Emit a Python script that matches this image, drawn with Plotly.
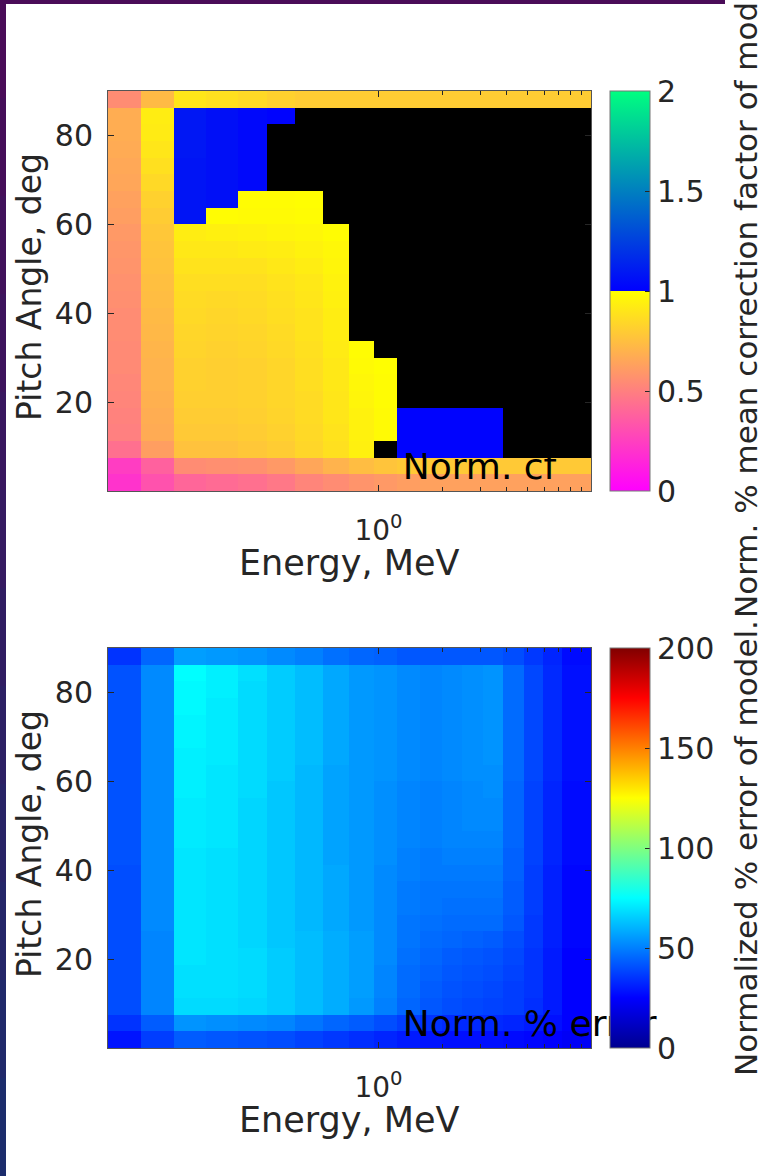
import plotly.graph_objects as go
import math

# ---------------- data ----------------
energy_edges = [0.0536, 0.0769, 0.110, 0.1555, 0.219, 0.298, 0.405, 0.547, 0.729, 0.953,
                1.218, 1.567, 1.983, 2.461, 3.09, 3.86, 4.80, 5.92, 7.27, 9.96]
pitch_edges = [0, 3.75, 7.5, 11.25, 15, 18.75, 22.5, 26.25, 30, 33.75, 37.5, 41.25, 45,
               48.75, 52.5, 56.25, 60, 63.75, 67.5, 71.25, 75, 78.75, 82.5, 86.25, 90]

N = None
# normalized mean correction factor (rows: pitch bins bottom->top, cols: energy bins)
norm_cf = [
    [0.20, 0.32, 0.40, 0.42, 0.44, 0.47, 0.52, 0.55, 0.58, 0.60, 0.62, 0.63, 0.63, 0.63, 0.63, 0.63, 0.63, 0.63, 0.63],
    [0.24, 0.38, 0.55, 0.56, 0.57, 0.60, 0.65, 0.70, 0.74, 0.77, 0.79, 0.79, 0.79, 0.79, 0.79, 0.79, 0.79, 0.79, 0.79],
    [0.44, 0.62, 0.76, 0.76, 0.78, 0.80, 0.84, 0.88, 0.94, N, 1.01, 1.01, 1.01, 1.01, 1.01, N, N, N, N],
    [0.50, 0.67, 0.79, 0.79, 0.80, 0.82, 0.85, 0.89, 0.95, 0.98, 1.01, 1.01, 1.01, 1.01, 1.01, N, N, N, N],
    [0.51, 0.68, 0.80, 0.80, 0.81, 0.83, 0.86, 0.90, 0.95, 0.98, 1.01, 1.01, 1.01, 1.01, 1.01, N, N, N, N],
    [0.52, 0.69, 0.81, 0.81, 0.82, 0.84, 0.86, 0.90, 0.96, 0.99, N, N, N, N, N, N, N, N, N],
    [0.53, 0.70, 0.82, 0.81, 0.82, 0.84, 0.87, 0.91, 0.97, 0.99, N, N, N, N, N, N, N, N, N],
    [0.54, 0.70, 0.82, 0.81, 0.82, 0.84, 0.87, 0.91, 0.98, 0.995, N, N, N, N, N, N, N, N, N],
    [0.54, 0.71, 0.83, 0.82, 0.83, 0.85, 0.88, 0.92, 0.99, N, N, N, N, N, N, N, N, N, N],
    [0.55, 0.72, 0.84, 0.83, 0.84, 0.86, 0.89, 0.93, N, N, N, N, N, N, N, N, N, N, N],
    [0.55, 0.73, 0.85, 0.84, 0.85, 0.87, 0.89, 0.93, N, N, N, N, N, N, N, N, N, N, N],
    [0.56, 0.74, 0.86, 0.85, 0.86, 0.88, 0.90, 0.94, N, N, N, N, N, N, N, N, N, N, N],
    [0.57, 0.75, 0.87, 0.87, 0.87, 0.89, 0.91, 0.95, N, N, N, N, N, N, N, N, N, N, N],
    [0.58, 0.76, 0.89, 0.89, 0.89, 0.91, 0.93, 0.96, N, N, N, N, N, N, N, N, N, N, N],
    [0.59, 0.77, 0.91, 0.91, 0.92, 0.93, 0.95, 0.97, N, N, N, N, N, N, N, N, N, N, N],
    [0.60, 0.78, 0.93, 0.94, 0.95, 0.96, 0.97, 0.99, N, N, N, N, N, N, N, N, N, N, N],
    [0.62, 0.80, 1.08, 0.99, 0.98, 0.98, 0.99, N, N, N, N, N, N, N, N, N, N, N, N],
    [0.63, 0.82, 1.08, 1.06, 0.99, 0.99, 0.995, N, N, N, N, N, N, N, N, N, N, N, N],
    [0.65, 0.85, 1.08, 1.06, 1.03, N, N, N, N, N, N, N, N, N, N, N, N, N, N],
    [0.66, 0.88, 1.08, 1.06, 1.03, N, N, N, N, N, N, N, N, N, N, N, N, N, N],
    [0.67, 0.90, 1.09, 1.06, 1.03, N, N, N, N, N, N, N, N, N, N, N, N, N, N],
    [0.68, 0.92, 1.09, 1.06, 1.03, N, N, N, N, N, N, N, N, N, N, N, N, N, N],
    [0.68, 0.93, 1.09, 1.06, 1.03, 1.01, N, N, N, N, N, N, N, N, N, N, N, N, N],
    [0.55, 0.73, 0.90, 0.88, 0.85, 0.82, 0.80, 0.80, 0.80, 0.80, 0.80, 0.80, 0.80, 0.80, 0.80, 0.80, 0.80, 0.80, 0.80],
]

# normalized % error of model
norm_err = [
    [29, 37, 43, 42, 41, 40, 38, 36, 34, 32, 30, 29, 28, 28, 28, 27, 26, 25, 23],
    [35, 43, 54, 53, 52, 51, 48, 45, 43, 40, 37, 35, 33, 33, 33, 32, 30, 28, 25],
    [40, 51, 68, 68, 67, 65, 62, 59, 55, 50, 45, 42, 40, 39, 38, 37, 34, 30, 25],
    [40, 51, 69, 69, 68, 65, 62, 59, 56, 51, 46, 43, 41, 40, 39, 37, 35, 30, 25],
    [40, 51, 69, 69, 68, 65, 62, 59, 56, 51, 46, 44, 42, 41, 40, 38, 35, 30, 25],
    [40, 51, 70, 69, 68, 65, 62, 59, 56, 52, 47, 45, 43, 42, 41, 39, 35, 30, 25],
    [40, 51, 70, 69, 67, 64, 62, 59, 56, 52, 48, 46, 45, 44, 43, 40, 36, 31, 26],
    [40, 52, 70, 69, 67, 64, 61, 58, 55, 52, 48, 47, 46, 46, 46, 42, 36, 31, 26],
    [40, 52, 70, 69, 67, 64, 61, 58, 55, 52, 49, 48, 47, 47, 47, 43, 37, 31, 26],
    [40, 52, 70, 69, 67, 64, 61, 58, 55, 52, 49, 48, 48, 48, 48, 43, 37, 31, 26],
    [40, 52, 70, 69, 67, 64, 61, 58, 55, 52, 50, 49, 49, 49, 49, 44, 37, 31, 26],
    [41, 52, 70, 69, 67, 64, 61, 57, 55, 53, 50, 49, 50, 50, 50, 44, 38, 32, 27],
    [41, 52, 71, 70, 67, 64, 61, 57, 55, 53, 51, 50, 51, 51, 51, 45, 38, 32, 27],
    [41, 52, 71, 70, 67, 64, 61, 57, 55, 53, 51, 50, 51, 52, 52, 45, 38, 32, 27],
    [41, 52, 71, 70, 67, 64, 61, 57, 55, 53, 51, 50, 51, 52, 52, 45, 38, 32, 27],
    [41, 52, 72, 70, 68, 64, 61, 57, 55, 53, 51, 50, 51, 52, 53, 45, 38, 32, 27],
    [41, 52, 72, 70, 68, 65, 61, 57, 55, 54, 52, 51, 52, 53, 53, 46, 39, 33, 28],
    [41, 52, 72, 71, 68, 65, 62, 58, 55, 54, 52, 51, 52, 53, 54, 46, 39, 33, 28],
    [41, 52, 73, 71, 68, 65, 62, 58, 55, 54, 52, 51, 52, 53, 54, 46, 39, 33, 28],
    [41, 52, 73, 71, 68, 65, 62, 58, 55, 54, 52, 51, 52, 53, 54, 46, 39, 33, 28],
    [41, 52, 74, 71, 68, 65, 62, 58, 55, 54, 52, 51, 52, 53, 54, 46, 39, 33, 28],
    [41, 52, 74, 72, 68, 65, 62, 58, 55, 54, 52, 51, 52, 53, 54, 46, 39, 33, 28],
    [41, 52, 75, 72, 69, 65, 62, 58, 55, 54, 52, 51, 52, 53, 54, 46, 39, 33, 28],
    [35, 45, 56, 55, 54, 52, 50, 47, 45, 44, 42, 42, 42, 42, 42, 40, 36, 32, 27],
]

cf_ticks = [0, 0.5, 1, 1.5, 2]
err_ticks = [0, 50, 100, 150, 200]
pitch_ticks = [20, 40, 60, 80]
energy_major = [1]
energy_major_text = ["10<sup>0</sup>"]
energy_minor = [2, 3, 4, 5, 6, 7, 8, 9]
label_pos = {"energy": 1.30, "pitch": 4.8}

# ---------------- layout geometry (pixels) ----------------
W, H = 782, 1176
FONT = "DejaVu Sans"
TXT = "#262626"
px_x = lambda p: p / W
px_y = lambda p: 1 - p / H

ax_left, ax_right = 108, 591
p1_top, p1_bot = 91, 491
p2_top, p2_bot = 648, 1048
cb_left, cb_thick = 610, 40

spring_winter = [[0, "rgb(255,0,255)"], [0.5, "rgb(255,255,0)"],
                 [0.5, "rgb(0,0,255)"], [1, "rgb(0,255,128)"]]
jet = [[0, "rgb(0,0,143)"], [0.125, "rgb(0,0,255)"], [0.375, "rgb(0,255,255)"],
       [0.625, "rgb(255,255,0)"], [0.875, "rgb(255,0,0)"], [1, "rgb(128,0,0)"]]

def cbar(top, bot, ticks):
    return dict(x=px_x(cb_left), xanchor="left", xpad=0, ypad=0,
                y=px_y((top + bot) / 2), yanchor="middle",
                len=(bot - top) / H, lenmode="fraction", thickness=cb_thick,
                thicknessmode="pixels", outlinewidth=1, outlinecolor="#777777",
                tickvals=ticks, ticks="inside", ticklen=5, tickcolor=TXT,
                tickfont=dict(family=FONT, size=30, color=TXT))

fig = go.Figure()
fig.add_trace(go.Heatmap(x=energy_edges, y=pitch_edges, z=norm_cf, zmin=0, zmax=2,
                         colorscale=spring_winter, colorbar=cbar(p1_top, p1_bot, cf_ticks),
                         xaxis="x", yaxis="y", hoverinfo="skip"))
fig.add_trace(go.Heatmap(x=energy_edges, y=pitch_edges, z=norm_err, zmin=0, zmax=200,
                         colorscale=jet, colorbar=cbar(p2_top, p2_bot, err_ticks),
                         xaxis="x2", yaxis="y2", hoverinfo="skip"))
for txt, xa, ya in [("Norm. cf", "x", "y"), ("Norm. % error", "x2", "y2")]:
    fig.add_trace(go.Scatter(x=[label_pos["energy"]], y=[label_pos["pitch"]], mode="text",
                             text=[txt], textposition="middle right", cliponaxis=False,
                             textfont=dict(family=FONT, size=36, color="black"),
                             xaxis=xa, yaxis=ya, showlegend=False, hoverinfo="skip"))

xcommon = dict(type="log", range=[math.log10(energy_edges[0]), math.log10(energy_edges[-1])],
               tickmode="array", tickvals=energy_major, ticktext=energy_major_text,
               ticks="inside", ticklen=6, tickcolor=TXT, mirror="allticks",
               showline=True, linecolor="#555555", linewidth=1, showgrid=False, zeroline=False,
               tickfont=dict(family=FONT, size=28, color=TXT), ticklabelstandoff=14,
               minor=dict(tickmode="array", tickvals=energy_minor, ticks="inside",
                          ticklen=4, tickcolor=TXT, showgrid=False),
               domain=[px_x(ax_left), px_x(ax_right)])
ycommon = dict(range=[pitch_edges[0], pitch_edges[-1]], tickmode="array", tickvals=pitch_ticks,
               ticks="inside", ticklen=6, tickcolor=TXT, mirror="allticks",
               showline=True, linecolor="#555555", linewidth=1, showgrid=False, zeroline=False,
               tickfont=dict(family=FONT, size=30, color=TXT), ticklabelstandoff=8)

fig.update_layout(
    width=W, height=H, margin=dict(l=0, r=0, t=0, b=0, autoexpand=False),
    paper_bgcolor="white", plot_bgcolor="black", showlegend=False,
    xaxis=dict(xcommon, anchor="y"),
    yaxis=dict(ycommon, anchor="x", domain=[px_y(p1_bot), px_y(p1_top)]),
    xaxis2=dict(xcommon, anchor="y2"),
    yaxis2=dict(ycommon, anchor="x2", domain=[px_y(p2_bot), px_y(p2_top)]),
)

ann = []
for top, bot in [(p1_top, p1_bot), (p2_top, p2_bot)]:
    mid = (top + bot) / 2
    ann.append(dict(text="Pitch Angle, deg", x=px_x(29), y=px_y(mid - 4), xref="paper", yref="paper",
                    textangle=-90, showarrow=False, xanchor="center", yanchor="middle",
                    font=dict(family=FONT, size=33, color=TXT)))
    ann.append(dict(text="Energy, MeV", x=px_x((ax_left + ax_right) / 2), y=px_y(bot + 72),
                    xref="paper", yref="paper", showarrow=False, xanchor="center", yanchor="middle",
                    font=dict(family=FONT, size=35, color=TXT)))
ann.append(dict(text="Norm. % mean correction factor of model.", x=px_x(746),
                y=px_y((p1_top + p1_bot) / 2), xref="paper", yref="paper", textangle=-90,
                showarrow=False, xanchor="center", yanchor="middle",
                font=dict(family=FONT, size=31, color=TXT)))
ann.append(dict(text="Normalized % error of model.", x=px_x(746),
                y=px_y((p2_top + p2_bot) / 2), xref="paper", yref="paper", textangle=-90,
                showarrow=False, xanchor="center", yanchor="middle",
                font=dict(family=FONT, size=31, color=TXT)))
fig.update_layout(annotations=ann)

# slide frame (decorative)
shapes = [dict(type="rect", xref="paper", yref="paper", x0=0, x1=px_x(725), y0=px_y(4), y1=1,
               fillcolor="#4a0c58", line_width=0, layer="above")]
nb = 12
for i in range(nb):
    f = i / (nb - 1)
    r = int(74 + (28 - 74) * f); g = int(12 + (44 - 12) * f); b = int(88 + (108 - 88) * f)
    shapes.append(dict(type="rect", xref="paper", yref="paper", x0=0, x1=px_x(6),
                       y0=1 - (i + 1) / nb, y1=1 - i / nb, fillcolor=f"rgb({r},{g},{b})",
                       line_width=0, layer="above"))
# boundary line in the first colorbar at value 1
shapes.append(dict(type="line", xref="paper", yref="paper", x0=px_x(cb_left), x1=px_x(cb_left + cb_thick),
                   y0=px_y((p1_top + p1_bot) / 2), y1=px_y((p1_top + p1_bot) / 2),
                   line=dict(color="black", width=1.5), layer="above"))
fig.update_layout(shapes=shapes)

fig.write_html("out.html")
